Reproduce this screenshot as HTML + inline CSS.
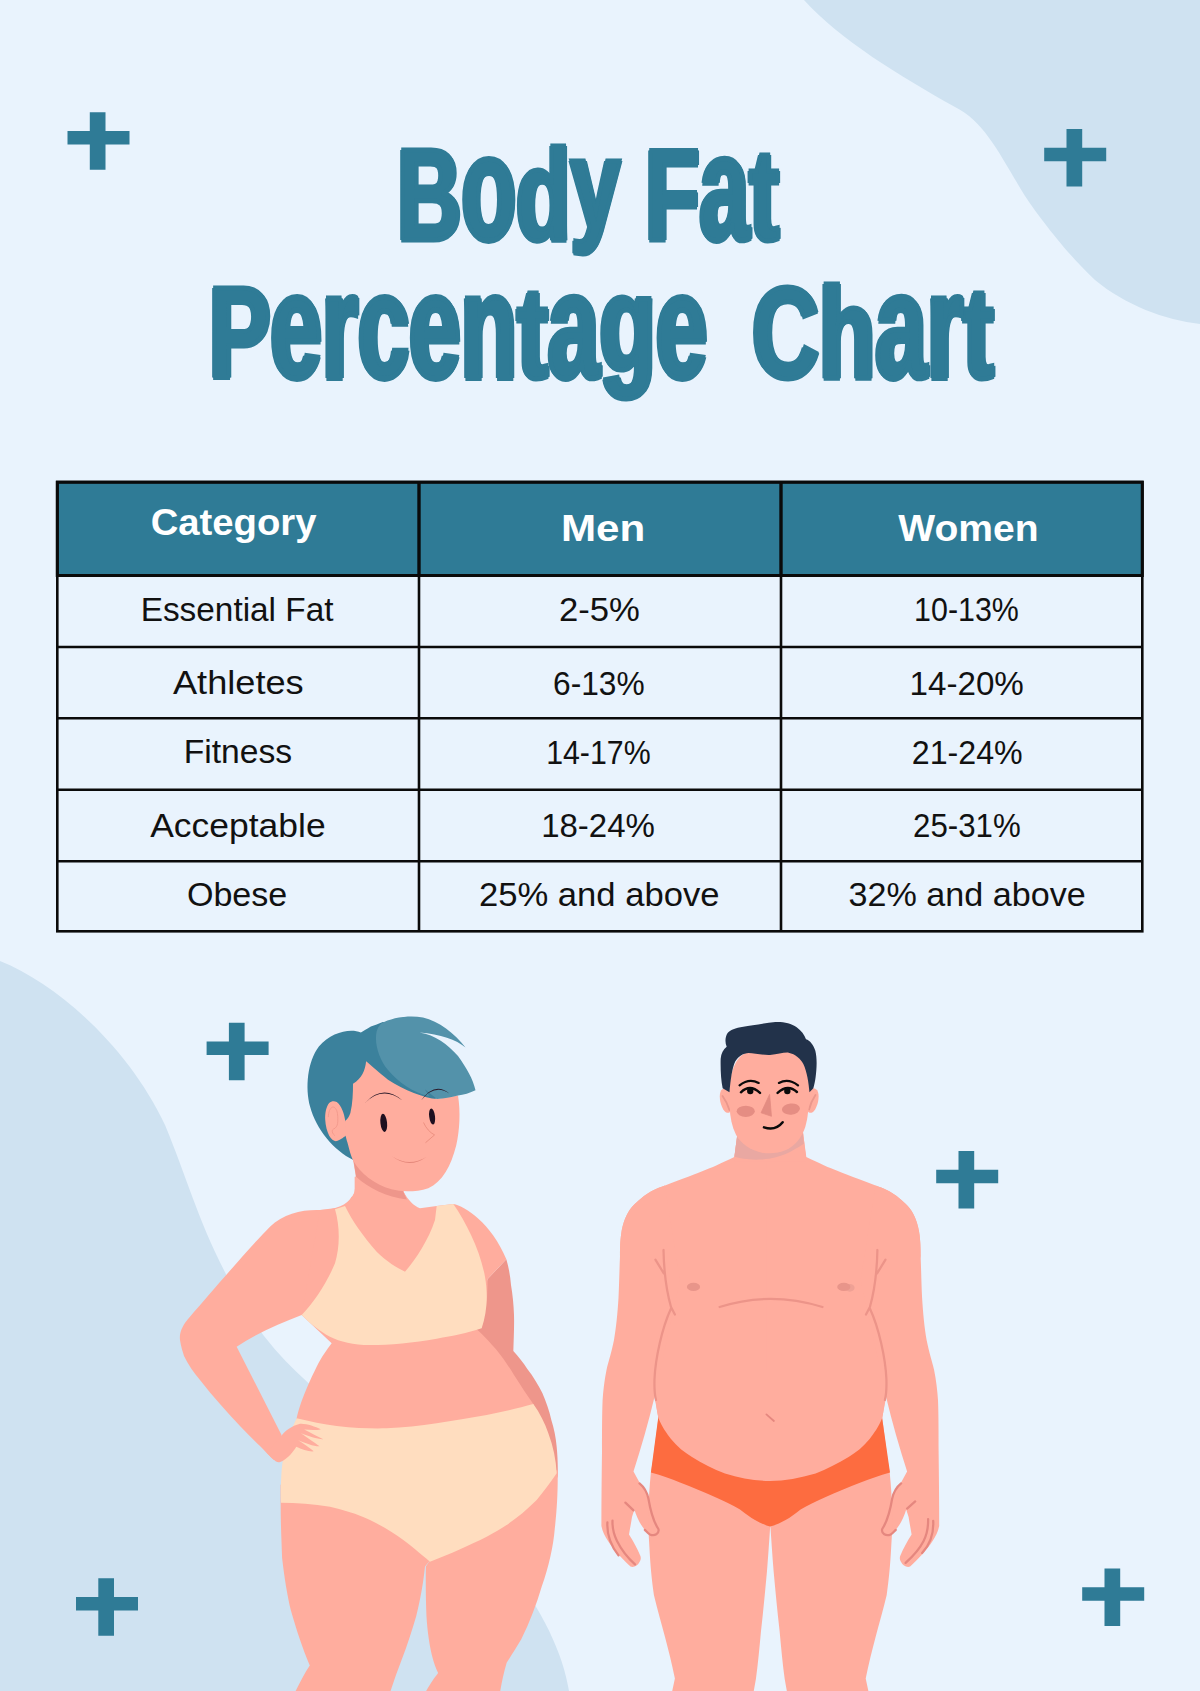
<!DOCTYPE html>
<html lang="en">
<head>
<meta charset="utf-8">
<title>Body Fat Percentage Chart</title>
<style>
  html, body { margin: 0; padding: 0; }
  body { width: 1200px; height: 1691px; background: #E9F3FD; position: relative; overflow: hidden;
         font-family: "Liberation Sans", sans-serif; }
  #bg, #art { position: absolute; left: 0; top: 0; width: 1200px; height: 1691px; }
  .title { position: absolute; left: 0; width: 1200px; margin: 0; text-align: center; color: #2F7B96;
           font-weight: bold; font-size: 129px; line-height: 129px; white-space: nowrap;
           transform-origin: 50% 50%; -webkit-text-stroke: 5px #2F7B96; text-shadow: -4px 0 0 #2F7B96, -3px 0 0 #2F7B96, -2px 0 0 #2F7B96, -1px 0 0 #2F7B96, 1px 0 0 #2F7B96, 2px 0 0 #2F7B96, 3px 0 0 #2F7B96, 4px 0 0 #2F7B96; letter-spacing: 0px; }
  .title span { display: inline-block; transform-origin: 50% 109.2px; }
  .title .x { transform: scaleY(1.167); }
  .title .yy { transform: translateY(-12px) scaleY(0.98); }
  .title .gg { transform: translateY(-8px) scaleY(1.045); }
  #t1 { top: 130.8px; transform: translateX(-12px) scaleX(0.692); }
  #t2 { top: 269.3px; word-spacing: 27px; transform: translateX(1.2px) scaleX(0.7165); }
  table { position: absolute; left: 57px; top: 482px; width: 1085px; border-collapse: collapse; table-layout: fixed; border-spacing: 0; }
  td, th { padding: 0; text-align: center; vertical-align: middle; white-space: nowrap; overflow: visible; }
  th { color: #fff; font-weight: bold; font-size: 37.5px; height: 93px; }
  td { color: #111; font-size: 33px; height: 71.5px; }
  .c { display: inline-block; position: relative; white-space: nowrap; line-height: 40px; transform-origin: 50% 50%; }
  #h1 { transform: translate(-4.7px,-6.5px) scaleX(1.0205); }
  #h2 { transform: translate(2.6px,0px) scaleX(1.1243); }
  #h3 { transform: translate(7.0px,0px) scaleX(1.0406); }
  #a1 { transform: translate(-1.3px,-1px) scaleX(1.0106); }
  #b1 { transform: translate(-0.1px,-0.8px) scaleX(1.05); }
  #c1 { transform: translate(4.6px,-1px) scaleX(0.9209); }
  #a2 { transform: translate(0.7px,1.3px) scaleX(1.0966); }
  #b2 { transform: translate(-0.9px,1.5px) scaleX(0.9598); }
  #c2 { transform: translate(4.8px,1.5px) scaleX(1.0045); }
  #a3 { transform: translate(-0.3px,-1.6px) scaleX(1.0194); }
  #b3 { transform: translate(-1.5px,-1.5px) scaleX(0.9182); }
  #c3 { transform: translate(5.4px,-1.5px) scaleX(0.9748); }
  #a4 { transform: translate(0.3px,1px) scaleX(1.0745); }
  #b4 { transform: translate(-2.0px,1px) scaleX(1.0); }
  #c4 { transform: translate(5.0px,1px) scaleX(0.9459); }
  #a5 { transform: translate(-0.5px,-2.2px) scaleX(1.0319); }
  #b5 { transform: translate(-0.5px,-2px) scaleX(1.0487); }
  #c5 { transform: translate(5.4px,-2px) scaleX(1.0344); }
</style>
</head>
<body>
<svg id="bg" viewBox="0 0 1200 1691">
  <path fill="#CFE2F1" d="M804,0 C840,40 900,76 955,107 C985,122 1000,155 1025,196 C1037,214 1065,252 1095,280 C1125,305 1165,320 1200,324 L1200,0 Z"/>
  <path fill="#CFE2F1" d="M0,961 C60,985 130,1050 165,1125 C190,1185 200,1230 240,1300 C290,1390 380,1430 450,1500 C520,1570 560,1635 569,1691 L0,1691 Z"/>
  <g fill="#2F7B96" id="crosses">
    <path id="cr" d="M22.3,0h15.7v18.8h24v13.5h-24v25.2h-15.7v-25.2h-22.3v-13.5h22.3z" transform="translate(67.5,112.2)"/>
    <path d="M22.3,0h15.7v18.8h24v13.5h-24v25.2h-15.7v-25.2h-22.3v-13.5h22.3z" transform="translate(1044.2,129)"/>
    <path d="M22.3,0h15.7v18.8h24v13.5h-24v25.2h-15.7v-25.2h-22.3v-13.5h22.3z" transform="translate(206.6,1022.8)"/>
    <path d="M22.3,0h15.7v18.8h24v13.5h-24v25.2h-15.7v-25.2h-22.3v-13.5h22.3z" transform="translate(936.2,1151)"/>
    <path d="M22.3,0h15.7v18.8h24v13.5h-24v25.2h-15.7v-25.2h-22.3v-13.5h22.3z" transform="translate(76,1578.2)"/>
    <path d="M22.3,0h15.7v18.8h24v13.5h-24v25.2h-15.7v-25.2h-22.3v-13.5h22.3z" transform="translate(1082.2,1568.5)"/>
  </g>
  <g id="grid">
    <rect x="57.3" y="482" width="1085" height="93.3" fill="#2F7B96"/>
    <g stroke="#0a0a0a" stroke-width="2.6" fill="none">
      <rect x="57.3" y="482" width="1085" height="449.3"/>
      <path d="M57.3,575.3H1142.3M57.3,647H1142.3M57.3,718.3H1142.3M57.3,789.7H1142.3M57.3,861.3H1142.3M419,482V931.3M781,482V931.3"/>
      <path stroke-width="3.1" d="M57.3,482.2H1142.3V575.5H57.3ZM419,482V575.5M781,482V575.5"/>
    </g>
  </g>
</svg>

<h1 class="title" id="t1">B<span class="x">o</span>d<span class="yy">y</span> F<span class="x">a</span>t</h1>
<h1 class="title" id="t2">P<span class="x">e</span><span class="x">r</span><span class="x">c</span><span class="x">e</span><span class="x">n</span>t<span class="x">a</span><span class="gg">g</span><span class="x">e</span> Ch<span class="x">a</span><span class="x">r</span>t</h1>

<table>
  <colgroup><col style="width:362px"><col style="width:362px"><col style="width:361px"></colgroup>
  <tr><th><span class="c" id="h1">Category</span></th><th><span class="c" id="h2">Men</span></th><th><span class="c" id="h3">Women</span></th></tr>
  <tr><td><span class="c" id="a1">Essential Fat</span></td><td><span class="c" id="b1">2-5%</span></td><td><span class="c" id="c1">10-13%</span></td></tr>
  <tr><td><span class="c" id="a2">Athletes</span></td><td><span class="c" id="b2">6-13%</span></td><td><span class="c" id="c2">14-20%</span></td></tr>
  <tr><td><span class="c" id="a3">Fitness</span></td><td><span class="c" id="b3">14-17%</span></td><td><span class="c" id="c3">21-24%</span></td></tr>
  <tr><td><span class="c" id="a4">Acceptable</span></td><td><span class="c" id="b4">18-24%</span></td><td><span class="c" id="c4">25-31%</span></td></tr>
  <tr><td><span class="c" id="a5">Obese</span></td><td><span class="c" id="b5">25% and above</span></td><td><span class="c" id="c5">32% and above</span></td></tr>
</table>

<svg id="art" viewBox="0 0 1200 1691">
<!--WOMAN-->
<g id="woman">
  <g transform="translate(290,1000) scale(0.175)">
    <path fill="#3B819C" d="M405,185 C340,160 235,185 165,265 C100,350 85,500 115,610 C150,740 250,860 362,914 L700,600 L850,560 L700,150 L530,126 C505,137 485,145 462,152 C440,165 420,178 405,185 Z"/>
  </g>
  <!-- body: coords in 3x zoom space -->
  <g transform="translate(170,1180) scale(0.333333)">
    <path fill="#EE968B" d="M1009,238 C1017,265 1021,290 1023,315 C1028,345 1031,375 1032,405 C1033,440 1031,480 1030,513 C1045,530 1060,548 1072,567 C1090,590 1105,615 1117,639 C1128,665 1138,692 1144,720 C1152,745 1158,775 1160,800 C1163,830 1164,860 1163,895 L1100,700 L900,450 L953,297 Z"/>
    <path fill="#FFAD9E" d="M545,50 C530,75 500,88 450,90 C400,88 340,100 300,140 C240,200 130,330 60,410 C40,432 27,455 30,480 C33,500 38,515 42,528 C55,555 72,578 90,600 C110,625 130,650 150,672 C170,695 190,717 210,738 C230,759 250,779 270,798 C285,813 298,828 312,840 L335,766 L200,500 C260,460 330,430 395,405 L520,300 L560,50 Z"/>
    <path fill="#FFAD9E" d="M528,80 L554,37 L554,-10 L701,-10 L701,37 C715,60 730,78 750,85 L800,78 L850,72 C885,78 965,130 1009,238 L953,297 L951,360 L935,443 L919,447 C945,470 962,490 978,508 C1000,535 1018,562 1032,585 C1052,615 1070,645 1090,672 L1140,800 L350,800 L380,716 C385,690 400,640 440,560 C455,530 470,510 485,490 L395,405 L450,90 Z"/>
    <path fill="#FFDDBF" d="M495,88 L525,78 C545,120 580,170 620,215 C650,245 680,262 705,275 C740,235 775,180 795,120 L800,78 L850,72 C890,130 930,210 945,290 C955,350 950,400 935,445 C890,460 850,468 800,476 C730,488 660,495 600,495 C550,495 510,485 480,470 C450,455 420,430 395,405 C430,370 470,310 495,250 C510,200 510,140 495,88 Z"/>
  </g>
  <!-- legs: coords in 3.4286x zoom space -->
  <g transform="translate(250,1441) scale(0.2916667)" fill="#FFAD9E">
    <path d="M105,150 L105,210 C105,280 108,340 110,400 C118,470 128,530 140,580 C160,650 180,710 205,770 C185,800 170,830 150,870 L478,870 C490,830 505,790 520,750 C540,700 555,650 570,600 C585,540 595,480 600,430 L615,412 L615,150 Z"/>
    <path d="M603,430 C602,490 603,550 605,600 C608,650 615,700 625,740 C630,760 637,780 645,795 C630,815 615,835 597,870 L856,870 C862,830 870,795 880,760 C900,730 915,705 930,680 C960,620 982,560 1000,500 C1025,430 1040,360 1045,300 C1052,240 1055,180 1055,130 L1055,100 L615,100 L615,412 Z"/>
  </g>
  <g transform="translate(170,1180) scale(0.333333)">
    <path fill="#FFDDBF" d="M380,715 C420,725 460,733 500,738 C560,745 610,746 650,745 C700,743 750,738 800,730 C850,722 900,714 950,705 C1000,695 1050,683 1090,672 C1110,700 1125,730 1135,760 C1150,800 1158,840 1160,880 C1140,910 1120,935 1100,960 C1050,1010 1000,1045 950,1070 C900,1095 840,1122 780,1145 C750,1120 720,1095 700,1080 C670,1058 640,1040 600,1020 C560,1000 520,990 480,980 C430,972 380,968 333,968 C332,930 333,900 335,870 C338,840 342,820 345,800 C355,770 368,740 380,715 Z"/>
  </g>
  <!-- hand: coords in 12x zoom space -->
  <g transform="translate(250,1390) scale(0.0833333)">
    <path fill="#FFAD9E" d="M380,545 C420,490 500,430 600,405 C680,400 780,440 850,470 C800,485 720,480 650,475 C740,520 820,565 880,590 C820,595 700,555 610,520 C700,580 780,640 835,675 C780,680 660,640 575,600 C650,650 720,700 765,735 C720,745 620,710 555,680 C520,740 460,810 400,845 C370,865 340,872 320,862 C290,845 240,800 200,750 Z"/>
  </g>
  <!-- head: coords in 5.714x zoom space -->
  <g transform="translate(290,1000) scale(0.175)">
    <path fill="#FFAD9E" d="M350,850 L375,1000 C376,1060 372,1100 355,1130 L665,1130 L645,1085 Z"/>
    <path fill="#EE968B" d="M360,900 L378,1010 C450,1075 550,1125 668,1140 L645,1092 L700,1000 Z"/>
    <path fill="#FFAD9E" d="M316,692 C310,650 295,605 267,583 C250,575 235,580 224,588 C205,610 200,650 201,681 C203,720 212,750 224,776 C235,795 250,806 262,807 C275,806 290,795 318,777 L340,735 Z"/>
    <path fill="none" stroke="#F29A8C" stroke-width="5.5" stroke-linecap="round" d="M219,667 C220,640 228,618 243,612 C255,609 268,625 271,648 C274,670 274,690 272,705 C270,720 262,732 248,738 C240,742 240,752 244,760 C247,766 250,770 255,774"/>
    <path fill="#FFAD9E" d="M435,350 C430,400 410,450 360,478 C360,530 358,590 345,645 C338,665 328,680 315,692 L318,777 C322,795 327,810 331,824 C340,860 348,890 360,915 C400,990 480,1050 580,1082 C640,1098 720,1098 790,1075 C870,1040 920,950 950,830 C970,740 975,640 960,545 L840,566 C770,560 650,515 560,455 C510,415 465,375 435,350 Z"/>
    <path fill="#5392AA" d="M520,135 C580,100 680,85 760,100 C850,120 940,190 1003,272 C950,225 860,195 740,185 C830,200 900,250 960,320 C1010,390 1045,450 1060,515 C1030,530 990,542 960,545 C920,555 880,562 840,565 L770,510 L795,548 C700,530 620,470 560,400 C510,340 480,250 495,180 C500,160 510,145 520,135 Z"/>
    <ellipse cx="535.7" cy="702.4" rx="19" ry="52" fill="#1E1020" transform="rotate(-6 535.7 702.4)"/>
    <ellipse cx="812" cy="665.7" rx="16.7" ry="46.7" fill="#1E1020" transform="rotate(-7 812 665.7)"/>
    <path fill="#2a1a2a" d="M428.6,588 Q530,477 642.9,573.8 Q530,488 428.6,588 Z M747.6,576 Q827,463 912,535.7 Q827,474 747.6,576 Z"/>
    <path fill="none" stroke="#E07F70" stroke-width="3.6" stroke-linecap="round" stroke-linejoin="round" d="M764,702 Q785,750 826,771 L776,814"/>
    <path fill="#E4877A" d="M583,893 Q681,958 781,895 Q681,969 583,893 Z"/>
  </g>
</g>
<!--MAN-->
<g id="man">
  <!-- body: coords in 3.3333x zoom space, origin (590,1130) -->
  <g transform="translate(590,1130) scale(0.3)">
    <g id="mhalfL" fill="#FFAD9E">
      <!-- torso half -->
      <path d="M615,-20 L496,-20 L481,90 C440,110 400,128 380,135 C330,155 290,170 250,185 C220,195 200,205 180,220 C155,240 140,255 130,270 C115,295 108,320 105,340 C100,370 100,400 100,420 L215,890 L228,960 L210,1100 L615,1100 Z"/>
      <!-- arm + hand -->
      <path d="M250,185 C220,195 200,205 180,220 C155,240 140,255 130,270 C115,295 108,320 105,340 C100,370 100,400 100,420 C98,470 97,520 95,560 C92,610 87,660 80,700 C72,740 62,770 55,800 C48,835 44,870 42,900 C40,950 40,1010 40,1070 C39,1150 38,1240 38,1320 C42,1340 50,1355 60,1370 C70,1385 82,1400 95,1415 C108,1428 120,1442 135,1455 C145,1460 160,1452 165,1440 C170,1432 170,1425 168,1420 C158,1395 145,1372 130,1348 C133,1330 137,1310 140,1290 L148,1265 C155,1290 170,1320 185,1335 C195,1350 215,1358 225,1345 C232,1335 230,1328 228,1325 C215,1300 208,1285 205,1270 C200,1245 196,1225 190,1210 C183,1195 175,1185 165,1175 L145,1138 C170,1060 195,975 215,890 L300,500 Z"/>
      <!-- leg -->
      <path d="M203,1142 C198,1190 196,1230 195,1270 C194,1310 195,1350 198,1390 C201,1450 206,1500 213,1550 C225,1600 238,1645 250,1690 C262,1735 273,1780 283,1828 L273,1875 L545,1875 L553,1830 C560,1780 565,1725 570,1670 C578,1600 584,1535 590,1470 C594,1420 597,1375 600,1330 L601,1322 L601,1295 L615,1295 L615,1100 L210,1100 Z"/>
    </g>
    <g transform="translate(1202,0) scale(-1,1)" fill="#FFAD9E">
      <path d="M615,-20 L496,-20 L481,90 C440,110 400,128 380,135 C330,155 290,170 250,185 C220,195 200,205 180,220 C155,240 140,255 130,270 C115,295 108,320 105,340 C100,370 100,400 100,420 L215,890 L228,960 L210,1100 L615,1100 Z"/>
      <path d="M250,185 C220,195 200,205 180,220 C155,240 140,255 130,270 C115,295 108,320 105,340 C100,370 100,400 100,420 C98,470 97,520 95,560 C92,610 87,660 80,700 C72,740 62,770 55,800 C48,835 44,870 42,900 C40,950 40,1010 40,1070 C39,1150 38,1240 38,1320 C42,1340 50,1355 60,1370 C70,1385 82,1400 95,1415 C108,1428 120,1442 135,1455 C145,1460 160,1452 165,1440 C170,1432 170,1425 168,1420 C158,1395 145,1372 130,1348 C133,1330 137,1310 140,1290 L148,1265 C155,1290 170,1320 185,1335 C195,1350 215,1358 225,1345 C232,1335 230,1328 228,1325 C215,1300 208,1285 205,1270 C200,1245 196,1225 190,1210 C183,1195 175,1185 165,1175 L145,1138 C170,1060 195,975 215,890 L300,500 Z"/>
      <path d="M203,1142 C198,1190 196,1230 195,1270 C194,1310 195,1350 198,1390 C201,1450 206,1500 213,1550 C225,1600 238,1645 250,1690 C262,1735 273,1780 283,1828 L273,1875 L545,1875 L553,1830 C560,1780 565,1725 570,1670 C578,1600 584,1535 590,1470 C594,1420 597,1375 600,1330 L601,1322 L601,1295 L615,1295 L615,1100 L210,1100 Z"/>
    </g>
    <!-- briefs -->
    <path fill="#FD6C40" d="M228,955 L203,1142 C240,1152 270,1163 300,1175 C340,1190 380,1207 420,1225 C450,1238 478,1252 500,1265 C520,1280 535,1292 550,1300 C568,1310 585,1318 600,1322 C617,1318 634,1310 652,1300 C668,1292 682,1280 702,1265 C725,1252 752,1238 782,1225 C822,1207 862,1190 902,1175 C935,1163 965,1152 1000,1142 L973,955 Z"/>
    <!-- belly -->
    <path fill="#FFAD9E" d="M215,800 C214,850 216,900 228,960 C240,990 255,1010 270,1030 C290,1055 315,1075 340,1090 C375,1112 410,1130 450,1145 C500,1160 550,1170 600,1170 C650,1170 700,1160 752,1145 C790,1130 825,1112 862,1090 C887,1075 912,1055 932,1030 C947,1010 962,990 974,960 C986,900 988,850 987,800 Z"/>
    <!-- detail lines -->
    <g fill="none" stroke="#EC9489" stroke-width="7.5" stroke-linecap="round" stroke-linejoin="round">
      <path d="M245,400 C246,450 250,520 270,590 L283,615 M218,432 L246,478 M270,595 C240,660 218,760 215,830 C214,860 215,880 220,900"/>
      <path d="M958,400 C957,450 953,520 933,590 L920,615 M985,432 L957,478 M933,595 C963,660 985,760 988,830 C989,860 988,880 983,900"/>
      <path d="M432,590 Q600,536 775,590"/>
      <path stroke="#E5877F" stroke-width="6" d="M588,948 L613,970"/>
      <path stroke="#E5877F" d="M165,1178 C180,1190 190,1205 195,1230 C200,1260 208,1300 228,1330 C232,1345 215,1355 200,1348 C192,1344 188,1338 183,1333 M75,1302 C74,1330 80,1350 90,1370 C105,1400 130,1430 150,1448 M58,1308 C56,1340 62,1375 95,1418 M118,1242 L145,1268"/>
      <path stroke="#E5877F" d="M1037,1178 C1022,1190 1012,1205 1007,1230 C1002,1260 994,1300 974,1330 C970,1345 987,1355 1002,1348 C1010,1344 1014,1338 1019,1333 M1127,1297 C1128,1330 1122,1350 1112,1370 C1097,1400 1072,1425 1052,1443 M1144,1303 C1146,1340 1140,1375 1107,1410 M1084,1238 L1057,1262"/>
    </g>
    <ellipse cx="345" cy="523" rx="22" ry="14" fill="#E8958A"/>
    <ellipse cx="866" cy="526" rx="16" ry="13" fill="#EFA195"/>
    <ellipse cx="846" cy="523" rx="22" ry="14" fill="#E8958A"/>
  </g>
  <!-- head: coords in 7.5x zoom space, origin (690,1000) -->
  <g transform="translate(690,1000) scale(0.1333333)">
    <path fill="#FFAD9E" d="M358,985 L333,1180 L330,1210 L872,1210 L869.5,1180 L847,985 Z"/>
    <path fill="#E9A8A2" d="M356,1000 L333,1176 C365,1185 395,1190 425,1193 C460,1197 495,1199 530,1197 C570,1195 610,1189 644,1180 C685,1168 722,1153 757,1136 C795,1115 828,1097 854,1079 L845,1000 Z"/>
    <path fill="#FFAD9E" d="M300,680 C280,655 240,655 228,690 C215,730 230,800 260,835 C275,850 295,850 305,835 Z"/>
    <path fill="#FFAD9E" d="M888,680 C908,655 948,655 960,690 C973,730 958,800 928,835 C913,850 893,850 883,835 Z"/>
    <path fill="none" stroke="#EA978C" stroke-width="14" stroke-linecap="round" d="M244,720 Q280,770 296,825 M941,713 Q906,765 893,821"/>
    <path fill="#FFAD9E" d="M296,640 L298,800 C300,880 315,950 345,1010 C380,1075 450,1125 540,1145 C600,1155 660,1150 720,1125 C790,1090 840,1030 865,950 C885,880 892,800 895,690 L895,600 C880,470 800,400 740,390 L440,390 C350,410 310,520 296,640 Z"/>
    <path fill="#22324A" d="M245,662 C232,600 228,520 230,440 C233,400 250,370 275,350 C262,320 262,280 282,248 C300,222 340,210 400,200 C460,192 560,172 640,165 C700,162 760,175 800,205 C835,230 858,262 870,295 C900,305 925,335 940,380 C955,440 950,520 942,580 C938,610 932,640 925,662 L896,692 C890,620 878,540 850,480 C830,440 790,405 740,395 C700,392 660,408 600,412 C540,414 480,398 440,398 C400,400 365,420 340,460 C315,510 305,600 296,692 Z"/>
    <ellipse cx="418" cy="835" rx="68" ry="42" fill="#E58D83"/>
    <ellipse cx="757" cy="818" rx="68" ry="42" fill="#E58D83" transform="rotate(-5 757 818)"/>
    <path fill="#E38C82" stroke="#E38C82" stroke-width="6" stroke-linejoin="round" d="M597,708 L611,872 L533,846 Z"/>
    <g fill="none" stroke="#0a0a0a" stroke-width="18" stroke-linecap="round">
      <path stroke-width="17" d="M372,640 Q442,584 515,622 M667,622 Q738,584 810,640"/>
      <path d="M382,692 Q450,626 525,697 M657,697 Q732,626 802,690"/>
      <path stroke-width="19" d="M555,955 Q640,985 695,917"/>
    </g>
    <circle cx="452" cy="683" r="24" fill="#0a0a0a"/>
    <circle cx="730" cy="683" r="24" fill="#0a0a0a"/>
  </g>
</g>
</svg>
</body>
</html>
